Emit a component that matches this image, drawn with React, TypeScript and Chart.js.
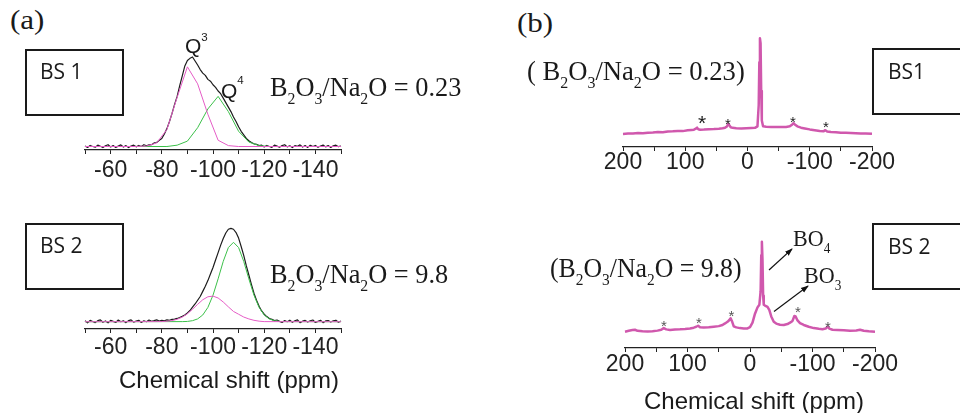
import React, { useEffect, useRef } from 'react';
import { Chart, registerables } from 'chart.js';

Chart.register(...registerables);

// ---------- DATA ----------
// 29Si chemical-shift grid (ppm) for the measured spectra in panel (a)
const PPM_A = [
  -50, -51, -52, -53, -54, -55, -56, -57, -58, -59,
  -60, -61, -62, -63, -64, -65, -66, -67, -68, -69,
  -70, -71, -72, -73, -74, -75, -76, -77, -78, -79,
  -80, -81, -82, -83, -84, -85, -86, -87, -88, -89,
  -90, -91, -92, -93, -94, -95, -96, -97, -98, -99,
  -100, -101, -102, -103, -104, -105, -106, -107, -108, -109,
  -110, -111, -112, -113, -114, -115, -116, -117, -118, -119,
  -120, -121, -122, -123, -124, -125, -126, -127, -128, -129,
  -130, -131, -132, -133, -134, -135, -136, -137, -138, -139,
  -140, -141, -142, -143, -144, -145, -146, -147, -148, -149,
  -150,
];

// BS 1 (B2O3/Na2O = 0.23) measured spectrum
const BS1_SI_MEASURED = [
  0.005, -0.01, 0.012, 0.0, -0.008, 0.015, 0.003, -0.012, 0.008, 0.02,
  -0.005, 0.01, -0.01, 0.004, 0.018, -0.006, 0.01, -0.012, 0.006, 0.015,
  -0.004, 0.012, 0.0, 0.02, 0.008, 0.018, 0.02, 0.04, 0.045, 0.07,
  0.09, 0.14, 0.2, 0.28, 0.37, 0.47, 0.56, 0.68, 0.79, 0.9,
  0.96, 0.985, 1.0, 0.955, 0.91, 0.86, 0.82, 0.795, 0.75, 0.73,
  0.69, 0.66, 0.62, 0.59, 0.54, 0.49, 0.44, 0.39, 0.33, 0.28,
  0.22, 0.17, 0.13, 0.09, 0.065, 0.045, 0.03, 0.025, 0.01, 0.015,
  -0.005, 0.012, 0.0, -0.01, 0.016, 0.004, -0.008, 0.01, 0.02, -0.004,
  0.008, -0.012, 0.01, 0.003, 0.018, -0.006, 0.01, -0.01, 0.014, 0.0,
  0.012, -0.008, 0.006, 0.016, -0.004, 0.01, -0.01, 0.008, 0.015, -0.002,
  0.006,
];
// BS 1 fitted components
const BS1_Q3_PPM = [-50, -70, -74, -78, -82, -86, -90, -94, -98, -102, -106, -110, -150];
const BS1_Q3 = [0, 0, 0.005, 0.04, 0.19, 0.55, 0.89, 0.7, 0.36, 0.07, 0.01, 0, 0];
const BS1_Q4_PPM = [-50, -82, -86, -90, -94, -98, -102, -106, -110, -114, -118, -122, -150];
const BS1_Q4 = [0, 0, 0.015, 0.06, 0.21, 0.42, 0.56, 0.39, 0.17, 0.05, 0.01, 0, 0];

// BS 2 (B2O3/Na2O = 9.8) measured spectrum
const BS2_SI_MEASURED = [
  0.01, -0.012, 0.015, 0.002, -0.01, 0.012, 0.02, -0.006, 0.008, -0.012,
  0.014, 0.004, -0.008, 0.018, 0.0, 0.01, -0.01, 0.012, 0.02, -0.004,
  0.006, 0.015, -0.008, 0.01, 0.0, 0.018, 0.005, 0.012, 0.02, 0.008,
  0.015, 0.01, 0.02, 0.016, 0.025, 0.028, 0.035, 0.045, 0.058, 0.072,
  0.095, 0.12, 0.155, 0.19, 0.23, 0.27, 0.325, 0.38, 0.44, 0.51,
  0.58, 0.66, 0.74, 0.82, 0.89, 0.95, 0.99, 1.0, 0.99, 0.955,
  0.895, 0.805, 0.71, 0.6, 0.5, 0.4, 0.305, 0.23, 0.165, 0.115,
  0.08, 0.055, 0.035, 0.025, 0.012, 0.018, 0.004, -0.008, 0.012, 0.0,
  0.016, -0.006, 0.01, 0.02, -0.01, 0.006, 0.014, -0.004, 0.01, 0.018,
  -0.008, 0.004, 0.015, -0.01, 0.008, 0.012, -0.004, 0.01, 0.016, -0.006,
  0.008,
];
// BS 2 fitted components
const BS2_Q3_PPM = [-50, -78, -80, -82, -84, -86, -88, -90, -92, -94, -96, -98, -100, -102, -104, -106, -108, -110, -112, -114, -116, -118, -120, -150];
const BS2_Q3 = [0, 0.001, 0.002, 0.005, 0.012, 0.026, 0.049, 0.085, 0.133, 0.186, 0.235, 0.267, 0.274, 0.254, 0.211, 0.159, 0.11, 0.08, 0.05, 0.03, 0.015, 0.006, 0.001, 0];
const BS2_Q4_PPM = [-50, -88, -90, -92, -94, -96, -98, -100, -102, -104, -106, -108, -110, -112, -114, -116, -118, -120, -122, -124, -126, -128, -150];
const BS2_Q4 = [0, 0.001, 0.003, 0.011, 0.03, 0.072, 0.153, 0.284, 0.459, 0.646, 0.794, 0.85, 0.794, 0.646, 0.459, 0.284, 0.153, 0.072, 0.03, 0.011, 0.003, 0.001, 0];

// 11B spectra, panel (b)
const BS1_B_PPM = [
  200, 192, 184, 176, 168, 160, 152, 144, 136, 128,
  120, 112, 104, 96, 90, 86, 83, 81, 79, 76,
  70, 62, 54, 46, 40, 36, 33, 31, 29, 27,
  24, 18, 10, 2, -6, -12, -16, -18, -19, -20,
  -21, -22, -23, -25, -30, -38, -46, -54, -62, -68,
  -72, -74, -76, -80, -86, -92, -100, -108, -116, -122,
  -125, -128, -134, -142, -150, -158, -166, -174, -182, -190,
  -200,
];
const BS1_B_INT = [
  0, 0.004, 0.006, 0.01, 0.008, 0.014, 0.016, 0.02, 0.018, 0.026,
  0.028, 0.032, 0.03, 0.038, 0.042, 0.045, 0.055, 0.066, 0.05, 0.044,
  0.046, 0.05, 0.052, 0.056, 0.06, 0.066, 0.078, 0.104, 0.09, 0.07,
  0.064, 0.06, 0.058, 0.06, 0.062, 0.064, 0.08, 0.3, 0.75, 1.0,
  0.95, 0.45, 0.14, 0.08, 0.076, 0.074, 0.072, 0.072, 0.074, 0.08,
  0.1, 0.112, 0.1, 0.08, 0.066, 0.058, 0.048, 0.04, 0.032, 0.028,
  0.04, 0.026, 0.02, 0.018, 0.014, 0.012, 0.01, 0.008, 0.006, 0.006,
  0.003,
];
const BS2_B_PPM = [
  200, 194, 188, 184, 180, 172, 164, 156, 148, 142,
  138, 134, 128, 120, 112, 104, 96, 90, 86, 83,
  80, 74, 66, 58, 50, 44, 40, 36, 33, 31,
  29, 26, 22, 16, 10, 4, 0, -4, -8, -12,
  -15, -17, -18, -19, -20, -21, -22, -24, -28, -31,
  -34, -38, -42, -48, -54, -60, -64, -68, -71, -73,
  -76, -80, -86, -94, -102, -110, -116, -121, -124, -127,
  -132, -140, -150, -160, -170, -176, -182, -190, -200,
];
const BS2_B_INT = [
  0, 0.01, 0.018, 0.022, 0.01, 0.004, 0.002, 0.006, 0.012, 0.022,
  0.04, 0.026, 0.02, 0.024, 0.026, 0.03, 0.036, 0.045, 0.055, 0.066,
  0.05, 0.046, 0.05, 0.056, 0.062, 0.075, 0.092, 0.11, 0.13, 0.15,
  0.12, 0.06, 0.048, 0.04, 0.036, 0.036, 0.05, 0.1, 0.2, 0.27,
  0.3, 0.45, 0.85, 1.0, 0.8, 0.4, 0.3, 0.29, 0.275, 0.24,
  0.17, 0.11, 0.09, 0.078, 0.074, 0.085, 0.1, 0.12, 0.175, 0.17,
  0.125, 0.095, 0.075, 0.055, 0.04, 0.032, 0.028, 0.035, 0.056, 0.035,
  0.022, 0.02, 0.016, 0.012, 0.014, 0.022, 0.01, 0.004, 0,
];

// axis settings
const SI_RANGE = [-150, -50];
const SI_STEP = 10;
const SI_LABEL_EVERY = 20;
const B_RANGE = [-200, 200];
const B_STEP = 50;
const B_LABEL_EVERY = 100;

// ---------- STYLE ----------
const BLACK = '#1c1c1c';
const PINK = '#e55cc6';
const GREEN = '#3cc04a';
const MAGENTA = '#d058ad';
const SERIF = '"Liberation Serif", "Times New Roman", serif';
const SANS = '"Liberation Sans", Arial, sans-serif';
const BOXFONT = '"Open Sans", "Noto Sans", sans-serif';

type Series = { x: number[]; y: number[]; color: string; width: number; order: number };
type SpecProps = {
  l: number; r: number; t: number; b: number;
  range: number[]; step: number; every: number;
  yMin: number; yMax: number; tickPad: number;
  series: Series[];
};

const PAD_X = 30;
const PAD_T = 4;
const AXIS_H = 40;

function Spectrum(p: SpecProps) {
  const ref = useRef<HTMLCanvasElement>(null);
  const cw = p.r - p.l + 2 * PAD_X;
  const ch = PAD_T + (p.b - p.t) + AXIS_H;
  useEffect(() => {
    const chart = new Chart(ref.current as HTMLCanvasElement, {
      type: 'line',
      data: {
        datasets: p.series.map((s) => ({
          data: s.x.map((x, i) => ({ x, y: s.y[i] })),
          borderColor: s.color,
          borderWidth: s.width,
          pointRadius: 0,
          tension: 0,
          fill: false,
          order: s.order,
          borderJoinStyle: 'round' as const,
          clip: false as any,
        })),
      },
      options: {
        animation: false,
        responsive: false,
        devicePixelRatio: 1,
        events: [],
        layout: { padding: { left: PAD_X, right: PAD_X, top: PAD_T, bottom: 0 } },
        plugins: { legend: { display: false }, tooltip: { enabled: false } },
        scales: {
          x: {
            type: 'linear',
            min: p.range[0],
            max: p.range[1],
            reverse: true,
            afterFit: (s: any) => { s.height = AXIS_H; },
            ticks: {
              stepSize: p.step,
              autoSkip: false,
              maxRotation: 0,
              minRotation: 0,
              padding: p.tickPad,
              color: '#222',
              font: { family: SANS, size: 23, lineHeight: 1 },
              callback: (v: any) => (Number(v) % p.every === 0 ? String(v) : ''),
            },
            grid: { drawOnChartArea: false, drawTicks: true, tickLength: 4, color: '#222', lineWidth: 1 },
            border: { display: true, color: '#222', width: 1.2 },
          },
          y: { display: false, min: p.yMin, max: p.yMax },
        },
      },
    });
    return () => chart.destroy();
  }, []);
  return (
    <canvas
      ref={ref}
      width={cw}
      height={ch}
      style={{ position: 'absolute', left: p.l - PAD_X, top: p.t - PAD_T, width: cw, height: ch }}
    />
  );
}

// text helpers: place text by baseline
const K: Record<string, number> = { serif: 0.8375, sans: 0.8465, box: 0.888 };
function Txt(props: { x: number; base: number; size: number; kind: 'serif' | 'sans' | 'box'; sx?: number; color?: string; bold?: boolean; children: React.ReactNode }) {
  const fam = props.kind === 'serif' ? SERIF : props.kind === 'sans' ? SANS : BOXFONT;
  return (
    <div
      style={{
        position: 'absolute',
        left: props.x,
        top: props.base - K[props.kind] * props.size,
        fontSize: props.size,
        fontFamily: fam,
        fontWeight: props.bold ? 700 : 400,
        lineHeight: 1,
        whiteSpace: 'nowrap',
        color: props.color || '#1a1a1a',
        transform: `scaleX(${props.sx ?? 1})`,
        transformOrigin: 'left top',
      }}
    >
      {props.children}
    </div>
  );
}
const Sub = ({ children }: { children: React.ReactNode }) => (
  <span style={{ fontSize: '0.6em', verticalAlign: '-0.5em', lineHeight: 1 }}>{children}</span>
);
const Sup = ({ children, raise }: { children: React.ReactNode; raise: number }) => (
  <span style={{ fontSize: '0.55em', verticalAlign: `${raise}px`, lineHeight: 1 }}>{children}</span>
);
const Ratio = ({ value }: { value: string }) => (
  <>B<Sub>2</Sub>O<Sub>3</Sub>/Na<Sub>2</Sub>O = {value}</>
);

function Box({ x, y, label }: { x: number; y: number; label: string }) {
  return (
    <>
      <div style={{ position: 'absolute', left: x, top: y, width: 99, height: 67, border: '2px solid #1a1a1a', boxSizing: 'border-box' }} />
      <Txt x={x + 15} base={y + 31} size={21} kind="box">{label}</Txt>
    </>
  );
}

function Star({ cx, cy, size, color }: { cx: number; cy: number; size: number; color: string }) {
  return (
    <div style={{ position: 'absolute', left: cx - 0.195 * size, top: cy - 0.27 * size, fontSize: size, fontFamily: SANS, lineHeight: 1, color }}>*</div>
  );
}

export default function App() {
  return (
    <div style={{ position: 'absolute', left: 0, top: 0, width: 960, height: 413, background: '#fff', overflow: 'hidden' }}>
      {/* panel (a) top */}
      <Spectrum
        l={85} r={341} t={45} b={150}
        range={SI_RANGE} step={SI_STEP} every={SI_LABEL_EVERY}
        yMin={-0.039} yMax={1.134} tickPad={5}
        series={[
          { x: PPM_A, y: BS1_SI_MEASURED, color: BLACK, width: 1.2, order: 2 },
          { x: BS1_Q3_PPM, y: BS1_Q3, color: PINK, width: 1, order: 1 },
          { x: BS1_Q4_PPM, y: BS1_Q4, color: GREEN, width: 1, order: 1 },
        ]}
      />
      {/* panel (a) bottom */}
      <Spectrum
        l={85} r={341} t={220} b={329}
        range={SI_RANGE} step={SI_STEP} every={SI_LABEL_EVERY}
        yMin={-0.078} yMax={1.089} tickPad={3}
        series={[
          { x: PPM_A, y: BS2_SI_MEASURED, color: BLACK, width: 1.2, order: 2 },
          { x: BS2_Q3_PPM, y: BS2_Q3, color: PINK, width: 1, order: 1 },
          { x: BS2_Q4_PPM, y: BS2_Q4, color: GREEN, width: 1, order: 1 },
        ]}
      />
      {/* panel (b) top */}
      <Spectrum
        l={623} r={872} t={30} b={147}
        range={B_RANGE} step={B_STEP} every={B_LABEL_EVERY}
        yMin={-0.136} yMax={1.087} tickPad={0}
        series={[{ x: BS1_B_PPM, y: BS1_B_INT, color: MAGENTA, width: 2.5, order: 1 }]}
      />
      {/* panel (b) bottom */}
      <Spectrum
        l={625} r={875} t={230} b={348}
        range={B_RANGE} step={B_STEP} every={B_LABEL_EVERY}
        yMin={-0.181} yMax={1.13} tickPad={1}
        series={[{ x: BS2_B_PPM, y: BS2_B_INT, color: MAGENTA, width: 2.5, order: 1 }]}
      />

      {/* panel letters */}
      <Txt x={10} base={30} size={27} kind="serif" sx={1.15}>(a)</Txt>
      <Txt x={517} base={32.5} size={27} kind="serif" sx={1.15}>(b)</Txt>

      {/* ratio labels */}
      <Txt x={270} base={96} size={28} kind="serif" sx={0.94}><Ratio value="0.23" /></Txt>
      <Txt x={270} base={283} size={28} kind="serif" sx={0.94}><Ratio value="9.8" /></Txt>
      <Txt x={527} base={80} size={28} kind="serif" sx={0.95}>( <Ratio value="0.23" />)</Txt>
      <Txt x={550} base={277} size={28} kind="serif" sx={0.92}>(<Ratio value="9.8" />)</Txt>

      {/* Q labels */}
      <Txt x={185} base={50} size={21} kind="sans">Q<Sup raise={12}>3</Sup></Txt>
      <Txt x={221} base={93} size={21} kind="sans">Q<Sup raise={14}>4</Sup></Txt>

      {/* BO labels */}
      <Txt x={793} base={246.5} size={24} kind="serif" sx={0.92}>BO<Sub>4</Sub></Txt>
      <Txt x={804} base={283} size={24} kind="serif" sx={0.92}>BO<Sub>3</Sub></Txt>
      <svg width={960} height={413} style={{ position: 'absolute', left: 0, top: 0 }}>
        <defs>
          <marker id="ah" markerWidth="8" markerHeight="8" refX="7" refY="4" orient="auto" markerUnits="userSpaceOnUse">
            <path d="M0,1.2 L8,4 L0,6.8 z" fill="#111" />
          </marker>
        </defs>
        <line x1={769} y1={270} x2={792} y2={249} stroke="#111" strokeWidth={1.2} markerEnd="url(#ah)" />
        <line x1={774} y1={311.5} x2={808} y2={286} stroke="#111" strokeWidth={1.2} markerEnd="url(#ah)" />
      </svg>

      {/* boxes */}
      <Box x={25} y={49} label="BS 1" />
      <Box x={25} y={223} label="BS 2" />
      <div style={{ position: 'absolute', left: 872, top: 48, width: 120, height: 67, border: '2px solid #1a1a1a', boxSizing: 'border-box' }} />
      <Txt x={888} base={80} size={21} kind="box">BS1</Txt>
      <div style={{ position: 'absolute', left: 872, top: 223, width: 120, height: 67, border: '2px solid #1a1a1a', boxSizing: 'border-box' }} />
      <Txt x={888} base={255} size={21} kind="box">BS 2</Txt>

      {/* spinning sidebands */}
      <Star cx={702} cy={118} size={21} color="#1a1a1a" />
      <Star cx={728} cy={120} size={15} color="#1a1a1a" />
      <Star cx={793} cy={118} size={15} color="#1a1a1a" />
      <Star cx={826} cy={123} size={15} color="#1a1a1a" />
      <Star cx={664} cy={322.5} size={15} color="#555" />
      <Star cx={699} cy={319.5} size={15} color="#555" />
      <Star cx={731.5} cy={312.5} size={15} color="#555" />
      <Star cx={798} cy={308} size={15} color="#555" />
      <Star cx={828} cy={323.5} size={15} color="#555" />

      {/* axis titles */}
      <Txt x={119} base={388} size={24} kind="sans">Chemical shift (ppm)</Txt>
      <Txt x={644} base={409} size={24} kind="sans">Chemical shift (ppm)</Txt>
    </div>
  );
}
